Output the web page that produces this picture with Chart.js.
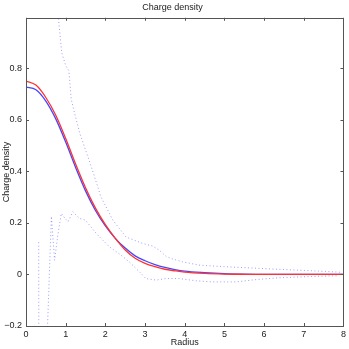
<!DOCTYPE html>
<html>
<head>
<meta charset="utf-8">
<style>
  html, body { margin: 0; padding: 0; background: #fff; }
  #wrap { width: 349px; height: 349px; }
</style>
<script src="https://cdn.jsdelivr.net/npm/chart.js@4/dist/chart.umd.min.js"></script>
</head>
<body>
<div id="wrap"><canvas id="chart"></canvas></div>
<script>
/* ---- data ---- */
const radius = [0, 0.25, 0.5, 0.75, 1, 1.25, 1.5, 1.75, 2, 2.25, 2.5, 2.75, 3, 3.25, 3.5, 3.75, 4, 4.5, 5, 5.5, 6, 6.5, 7, 7.5, 8];
const exactDensity = [0.750, 0.734, 0.686, 0.617, 0.527, 0.428, 0.336, 0.257, 0.193, 0.140, 0.095, 0.063, 0.043, 0.030, 0.020, 0.014, 0.009, 0.004, 0.0015, 0.0005, 0, 0, 0, 0, 0];
const fitDensity = [0.726, 0.716, 0.672, 0.603, 0.513, 0.415, 0.324, 0.248, 0.188, 0.140, 0.102, 0.072, 0.053, 0.038, 0.027, 0.019, 0.013, 0.007, 0.003, 0.001, 0, 0, 0, 0, 0];

const upperX = [0.80, 0.82, 0.90, 1.00, 1.08, 1.14, 1.20, 1.35, 1.64, 1.89, 2.19, 2.52, 2.69, 2.94, 3.19, 3.35, 3.53, 3.69, 3.94, 4.36, 5.00, 5.54, 6.20, 6.79, 7.50, 7.97];
const upperY = [1.06, 0.99, 0.86, 0.81, 0.79, 0.68, 0.64, 0.55, 0.42, 0.30, 0.21, 0.145, 0.135, 0.12, 0.11, 0.095, 0.07, 0.06, 0.049, 0.036, 0.030, 0.026, 0.021, 0.017, 0.012, 0.008];

const lowerX = [0.32, 0.325, 0.52, 0.64, 0.72, 0.80, 0.89, 0.97, 1.06, 1.18, 1.35, 1.50, 1.77, 1.89, 2.10, 2.35, 2.60, 2.86, 3.02, 3.28, 3.53, 3.86, 4.30, 4.70, 5.29, 5.80, 6.37, 7.20, 7.88];
const lowerY = [0.125, -0.5, -0.3, 0.225, 0.055, 0.15, 0.237, 0.22, 0.204, 0.243, 0.217, 0.21, 0.159, 0.14, 0.107, 0.08, 0.049, 0.01, -0.016, -0.022, -0.016, -0.016, -0.025, -0.029, -0.029, -0.02, -0.013, -0.008, -0.005];

const xTicks = [0, 1, 2, 3, 4, 5, 6, 7, 8];
const yTicks = [-0.2, 0, 0.2, 0.4, 0.6, 0.8];
const yTickLabels = ['\u22120.2', '0', '0.2', '0.4', '0.6', '0.8'];

const toPoints = (xs, ys) => xs.map((x, i) => ({ x: x, y: ys[i] }));

const FONT = 'Liberation Sans, Arial, Helvetica, sans-serif';

/* ---- box frame with inward ticks on all four sides ---- */
const framePlugin = {
    id: 'frame',
    afterDatasetsDraw(chart) {
        const { ctx, chartArea: a, scales } = chart;
        ctx.save();
        ctx.strokeStyle = '#555';
        ctx.lineWidth = 1;
        ctx.beginPath();
        xTicks.forEach(v => {
            const px = Math.round(scales.x.getPixelForValue(v)) + 0.5;
            ctx.moveTo(px, a.bottom); ctx.lineTo(px, a.bottom - 3);
            ctx.moveTo(px, a.top); ctx.lineTo(px, a.top + 3);
        });
        yTicks.forEach(v => {
            const py = Math.round(scales.y.getPixelForValue(v)) + 0.5;
            ctx.moveTo(a.left, py); ctx.lineTo(a.left + 3, py);
            ctx.moveTo(a.right, py); ctx.lineTo(a.right - 3, py);
        });
        ctx.stroke();
        ctx.strokeRect(Math.round(a.left) + 0.5, Math.round(a.top) + 0.5,
            Math.round(a.right - a.left), Math.round(a.bottom - a.top));
        ctx.restore();
    }
};

new Chart(document.getElementById('chart'), {
    type: 'line',
    data: {
        datasets: [
            {
                data: toPoints(upperX, upperY),
                borderColor: 'rgba(90,90,255,0.6)',
                borderWidth: 1,
                borderDash: [1, 2.5],
                tension: 0
            },
            {
                data: toPoints(lowerX, lowerY),
                borderColor: 'rgba(90,90,255,0.6)',
                borderWidth: 1,
                borderDash: [1, 2.5],
                tension: 0
            },
            {
                data: toPoints(radius, exactDensity),
                borderColor: 'rgb(255,50,50)',
                borderWidth: 1.3,
                cubicInterpolationMode: 'monotone'
            },
            {
                data: toPoints(radius, fitDensity),
                borderColor: 'rgb(70,70,255)',
                borderWidth: 1.3,
                cubicInterpolationMode: 'monotone'
            }
        ]
    },
    options: {
        responsive: true,
        maintainAspectRatio: false,
        animation: false,
        events: [],
        layout: { padding: { right: 4 } },
        elements: { point: { radius: 0 } },
        plugins: {
            legend: { display: false },
            tooltip: { enabled: false },
            title: {
                display: true,
                text: 'Charge density',
                color: '#222',
                font: { family: FONT, size: 9, weight: 'normal' },
                padding: { top: 2, bottom: 5 }
            }
        },
        scales: {
            x: {
                type: 'linear',
                min: 0,
                max: 8,
                grid: { display: false, drawTicks: false },
                border: { display: false },
                afterBuildTicks: s => { s.ticks = xTicks.map(v => ({ value: v })); },
                afterFit: s => { s.height = 23; },
                ticks: {
                    padding: 3,
                    color: '#222',
                    maxRotation: 0,
                    font: { family: FONT, size: 9 }
                },
                title: {
                    display: true,
                    text: 'Radius',
                    color: '#222',
                    font: { family: FONT, size: 9 },
                    padding: { top: 0, bottom: 1 }
                }
            },
            y: {
                type: 'linear',
                min: -0.2,
                max: 0.995,
                grid: { display: false, drawTicks: false },
                border: { display: false },
                afterBuildTicks: s => { s.ticks = yTicks.map(v => ({ value: v })); },
                afterFit: s => { s.width = 26; },
                ticks: {
                    padding: 4,
                    color: '#222',
                    font: { family: FONT, size: 9 },
                    callback: (v, i) => yTickLabels[i]
                },
                title: {
                    display: true,
                    text: 'Charge density',
                    color: '#222',
                    font: { family: FONT, size: 9 },
                    padding: { top: 1, bottom: 0 }
                }
            }
        }
    },
    plugins: [framePlugin]
});
</script>
</body>
</html>
